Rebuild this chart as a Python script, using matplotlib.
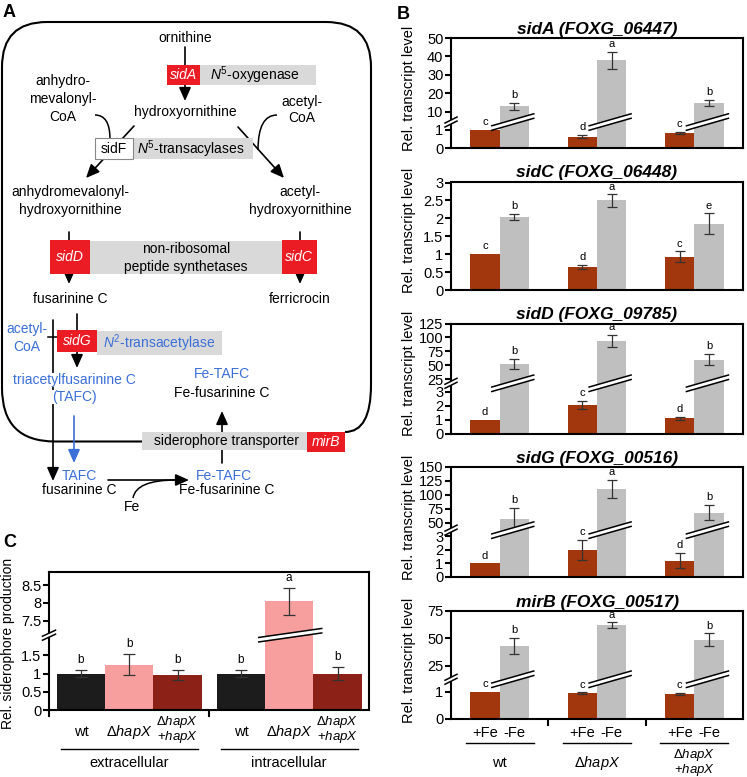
import numpy as np
import matplotlib.pyplot as plt
from matplotlib import transforms
from matplotlib.lines import Line2D
from matplotlib.patches import Rectangle, Polygon, FancyArrowPatch, PathPatch
from matplotlib.path import Path

plt.rcParams['font.family'] = ['Liberation Sans', 'DejaVu Sans']
plt.rcParams['mathtext.fontset'] = 'custom'
plt.rcParams['mathtext.rm'] = 'Liberation Sans'
plt.rcParams['mathtext.it'] = 'Liberation Sans:italic'
plt.rcParams['mathtext.bf'] = 'Liberation Sans:bold'

# ---- panel B: relative transcript level, +Fe / -Fe ----
b_strains = [['wt'], [r'$\Delta\mathit{hapX}$'], [r'$\Delta\mathit{hapX}$', r'+$\mathit{hapX}$']]
b_conditions = ['+Fe', '-Fe']

sidA_fe = [1.0, 0.63, 0.85]
sidA_fe_err = [0, 0.09, 0.05]
sidA_noFe = [13.0, 38.0, 14.8]
sidA_noFe_err = [2.0, 4.6, 1.6]
sidA_letters = ['c', 'd', 'c', 'b', 'a', 'b']

sidC_fe = [1.0, 0.65, 0.93]
sidC_fe_err = [0, 0.06, 0.15]
sidC_noFe = [2.04, 2.5, 1.85]
sidC_noFe_err = [0.09, 0.17, 0.29]
sidC_letters = ['c', 'd', 'c', 'b', 'a', 'e']

sidD_fe = [1.0, 2.05, 1.12]
sidD_fe_err = [0, 0.28, 0.1]
sidD_noFe = [52.0, 93.0, 60.0]
sidD_noFe_err = [9.0, 11.0, 10.0]
sidD_letters = ['d', 'c', 'd', 'b', 'a', 'b']

sidG_fe = [1.0, 2.0, 1.2]
sidG_fe_err = [0, 0.72, 0.57]
sidG_noFe = [56.0, 111.0, 68.0]
sidG_noFe_err = [20.0, 16.0, 14.0]
sidG_letters = ['d', 'c', 'd', 'b', 'a', 'b']

mirB_fe = [1.0, 0.94, 0.9]
mirB_fe_err = [0, 0.03, 0.04]
mirB_noFe = [43.0, 62.0, 48.5]
mirB_noFe_err = [7.0, 2.5, 6.0]
mirB_letters = ['c', 'c', 'c', 'b', 'a', 'b']

# ---- panel C: relative siderophore production ----
c_groups = ['extracellular', 'intracellular']
c_strains = [['wt'], [r'$\Delta\mathit{hapX}$'], [r'$\Delta\mathit{hapX}$', r'+$\mathit{hapX}$']]
c_ext = [1.0, 1.24, 0.96]
c_ext_err = [0.1, 0.29, 0.13]
c_int = [1.0, 8.05, 1.0]
c_int_err = [0.1, 0.38, 0.17]
c_ext_letters = ['b', 'b', 'b']
c_int_letters = ['b', 'a', 'b']

FE_COL = '#a2360c'
NOFE_COL = '#bfbfbf'
ERR_COL = '#333333'
C_COLS = ['#1c1c1c', '#f79f9f', '#8c2117']
RED = '#ec1c24'
GREY = '#d9d9d9'
BLUE = '#3b6fd8'

W, H = 747, 777
fig = plt.figure(figsize=(W / 100, H / 100), dpi=100)


def px_axes(l, t, r, b):
    return fig.add_axes([l / W, 1 - b / H, (r - l) / W, (b - t) / H])


def break_scale(ax, lo_max, frac, hi_min, hi_max):
    xs = [0.0, lo_max, hi_min, hi_max]
    ys = [0.0, frac, frac + 1e-3, 1.0]
    ax.set_yscale('function', functions=(lambda v: np.interp(v, xs, ys),
                                         lambda u: np.interp(u, ys, xs)))
    ax.set_ylim(0, hi_max)


def slash(ax, x, yfrac, w, rise, gap, xtrans, dx=0.0, lw=1.1):
    # double-line axis break, sizes in pixels
    T = transforms.blended_transform_factory(xtrans, ax.transAxes)
    tr = transforms.Affine2D().translate(dx, 0) + transforms.ScaledTranslation(x, yfrac, T)
    hw, hr, hg = w / 2, rise / 2, gap / 2
    ax.add_artist(Polygon([(-hw, -hr - hg), (hw, hr - hg), (hw, hr + hg), (-hw, -hr + hg)],
                          closed=True, transform=tr, fc='white', ec='none',
                          clip_on=False, zorder=6))
    for s in (-hg, hg):
        ax.add_artist(Line2D([-hw, hw], [-hr + s, hr + s], transform=tr, color='black',
                             lw=lw, clip_on=False, zorder=7))


def style_axes(ax):
    for sp in ax.spines.values():
        sp.set_linewidth(1.5)
    ax.tick_params(axis='y', direction='out', length=4, width=1.5, labelsize=10.5, pad=1.5)


# ================= panel A (schematic) =================
axA = fig.add_axes([0, 0, 1, 1])
axA.set_xlim(0, W)
axA.set_ylim(H, 0)
axA.axis('off')


def rect(x0, y0, x1, y1, fc, ec='none', lw=0, z=2):
    axA.add_patch(Rectangle((x0, y0), x1 - x0, y1 - y0, facecolor=fc, edgecolor=ec,
                            linewidth=lw, zorder=z))


def arrow(p0, p1, color='black', head=True, z=1):
    style = '-|>,head_length=0.45,head_width=0.2' if head else '-'
    axA.add_patch(FancyArrowPatch(p0, p1, arrowstyle=style, mutation_scale=18,
                                  linewidth=1.2, color=color, shrinkA=0, shrinkB=0, zorder=z))


def curve(p0, c, p1, z=1):
    axA.add_patch(PathPatch(Path([p0, c, p1], [Path.MOVETO, Path.CURVE3, Path.CURVE3]),
                            fc='none', ec='black', lw=1.1, zorder=z))


def label(x, y, s, color='black', ha='center', size=10, **kw):
    axA.text(x, y, s, color=color, ha=ha, va='center', fontsize=size, zorder=4, **kw)


# cell outline
cell = Path([(142, 441.5), (55, 441.5), (2, 441.5), (2, 388), (2, 67), (2, 22), (47, 22),
             (326, 22), (371, 22), (371, 67), (371, 385), (371, 432), (345, 432)],
            [Path.MOVETO, Path.LINETO, Path.CURVE3, Path.CURVE3, Path.LINETO, Path.CURVE3,
             Path.CURVE3, Path.LINETO, Path.CURVE3, Path.CURVE3, Path.LINETO, Path.CURVE3,
             Path.CURVE3])
axA.add_patch(PathPatch(cell, fc='none', ec='black', lw=1.5, zorder=1))

# boxes
rect(167, 65, 200, 85, RED)
rect(200, 65, 316, 85, GREY)
rect(95, 138, 133, 159, 'white', ec='#888888', lw=0.8, z=3)
rect(133, 138, 253, 159, GREY)
rect(90, 241, 282, 274, GREY)
rect(50, 240, 90, 274, RED)
rect(282, 240, 317, 274, RED)
rect(97, 331, 222, 355, GREY)
rect(57, 330, 97, 352, RED, z=3)
rect(142, 432, 307, 450, GREY)
rect(307, 432, 345, 452, RED)

# arrows and connectors
arrow((185, 47), (185, 101))
arrow((134, 126), (86, 178))
curve((95, 115), (110, 115), (110, 139))
arrow((238, 127), (284, 178))
curve((277, 115), (258, 115), (258, 150))
arrow((69, 232), (69, 284))
arrow((300, 232), (300, 284))
arrow((77, 314), (77, 368))
arrow((53, 320), (53, 481))
axA.plot([48, 57], [337, 337], color='black', lw=1.1, zorder=1)
arrow((74, 416), (74, 463), color=BLUE)
arrow((222, 463), (222, 411))
arrow((108, 480), (189, 480))
curve((133, 498), (136, 480), (176, 480))

# texts
white = dict(fc='white', ec='none', pad=0.3)
label(185, 38, 'ornithine')
label(183.5, 75, 'sidA', color='white', style='italic')
label(210, 75, r'$\mathit{N}^{5}$-oxygenase', ha='left')
label(185, 112, 'hydroxyornithine')
label(63, 81, 'anhydro-')
label(63, 99, 'mevalonyl-')
label(63, 117, 'CoA')
label(302, 102, 'acetyl-')
label(302, 118, 'CoA')
label(114, 149, 'sidF')
label(137, 149, r'$\mathit{N}^{5}$-transacylases', ha='left')
label(70, 192, 'anhydromevalonyl-')
label(70, 210, 'hydroxyornithine')
label(300, 192, 'acetyl-')
label(300, 210, 'hydroxyornithine')
label(70, 257, 'sidD', color='white', style='italic')
label(299, 257, 'sidC', color='white', style='italic')
label(186, 249, 'non-ribosomal')
label(186, 267, 'peptide synthetases')
label(70, 299, 'fusarinine C')
label(300, 299, 'ferricrocin')
label(77, 341, 'sidG', color='white', style='italic')
label(103, 343, r'$\mathit{N}^{2}$-transacetylase', color=BLUE, ha='left')
label(27, 329, 'acetyl-', color=BLUE, bbox=white)
label(27, 347, 'CoA', color=BLUE, bbox=white)
label(74, 380, 'triacetylfusarinine C', color=BLUE, bbox=white)
label(74, 397, '(TAFC)', color=BLUE, bbox=white)
label(222, 374, 'Fe-TAFC', color=BLUE)
label(222, 393, 'Fe-fusarinine C')
label(227, 441, 'siderophore transporter')
label(326, 442, 'mirB', color='white', style='italic')
label(79, 476, 'TAFC', color=BLUE)
label(79, 490, 'fusarinine C')
label(224, 476, 'Fe-TAFC', color=BLUE)
label(227, 490, 'Fe-fusarinine C')
label(132, 507, 'Fe')

fig.text(3 / W, 1 - 4 / H, 'A', fontsize=13, fontweight='bold', va='top', ha='left')
fig.text(397 / W, 1 - 6 / H, 'B', fontsize=13, fontweight='bold', va='top', ha='left')
fig.text(3 / W, 1 - 534 / H, 'C', fontsize=13, fontweight='bold', va='top', ha='left')

# ================= panel B =================
b_panels = [
    ('sidA (FOXG_06447)', sidA_fe, sidA_fe_err, sidA_noFe, sidA_noFe_err, sidA_letters,
     [0, 1, 10, 20, 30, 40, 50], (1.44, 0.236, 4.5, 50), (38, 148)),
    ('sidC (FOXG_06448)', sidC_fe, sidC_fe_err, sidC_noFe, sidC_noFe_err, sidC_letters,
     [0, 0.5, 1, 1.5, 2, 2.5, 3], None, (181.5, 290)),
    ('sidD (FOXG_09785)', sidD_fe, sidD_fe_err, sidD_noFe, sidD_noFe_err, sidD_letters,
     [0, 1, 2, 3, 25, 50, 75, 100, 125], (3.6, 0.459, 17.8, 125), (323.5, 434)),
    ('sidG (FOXG_00516)', sidG_fe, sidG_fe_err, sidG_noFe, sidG_noFe_err, sidG_letters,
     [0, 1, 2, 3, 50, 75, 100, 125, 150], (3.43, 0.426, 36.8, 150), (467, 577)),
    ('mirB (FOXG_00517)', mirB_fe, mirB_fe_err, mirB_noFe, mirB_noFe_err, mirB_letters,
     [0, 1, 25, 50, 75], (1.45, 0.368, 12.5, 75), (611, 719)),
]

xc = np.arange(3) + 0.5
bw = 0.3
for k, (title, fe, fe_err, nofe, nofe_err, lets, ticks, brk, (top, bot)) in enumerate(b_panels):
    ax = px_axes(451, top, 743, bot)
    ax.set_xlim(0, 3)
    if brk:
        break_scale(ax, *brk)
    else:
        ax.set_ylim(0, 3.03)
    x_fe, x_no = xc - bw / 2, xc + bw / 2
    ax.bar(x_fe, fe, bw, color=FE_COL, zorder=2)
    ax.bar(x_no, nofe, bw, color=NOFE_COL, zorder=2)
    xs = list(x_fe) + list(x_no)
    for x, v, e, l in zip(xs, fe + nofe, fe_err + nofe_err, lets):
        if e > 0:
            ax.errorbar(x, v, yerr=e, fmt='none', ecolor=ERR_COL, elinewidth=0.9,
                        capsize=3.5, capthick=0.9, zorder=3)
        ax.annotate(l, (x, v + e), xytext=(0, 2), textcoords='offset points',
                    ha='center', va='bottom', fontsize=8)
    if brk:
        for x, v in zip(x_no, nofe):
            if v > brk[0]:
                slash(ax, x, brk[1], 42, 12, 4.5, ax.transData, dx=-1.5)
        slash(ax, 0, brk[1], 12, 6, 4, ax.transAxes)
    ax.set_yticks(ticks, [f'{t:g}' for t in ticks])
    style_axes(ax)
    ax.set_title(title, fontsize=12.5, fontweight='bold', fontstyle='italic', pad=3)
    fig.text(409 / W, 1 - ((top + bot) / 2 - 5) / H, 'Rel. transcript level',
             rotation=90, ha='center', va='center', fontsize=10.5)
    if k < len(b_panels) - 1:
        ax.set_xticks([])
    else:
        ax.set_xticks([1, 2])
        ax.tick_params(axis='x', direction='out', length=5, width=1.5, labelbottom=False)
        T = transforms.blended_transform_factory(ax.transData, ax.transAxes)
        for i in range(3):
            ax.text(x_fe[i], -0.13, b_conditions[0], transform=T, ha='center', va='center', fontsize=10.5)
            ax.text(x_no[i], -0.13, b_conditions[1], transform=T, ha='center', va='center', fontsize=10.5)
            ax.add_artist(Line2D([xc[i] - 0.35, xc[i] + 0.35], [-0.222, -0.222], transform=T,
                                 color='black', lw=1, clip_on=False))
            lines = b_strains[i]
            ys = [-0.405] if len(lines) == 1 else [-0.335, -0.475]
            for s, yy in zip(lines, ys):
                ax.text(xc[i], yy, s, transform=T, ha='center', va='center',
                        fontsize=10.5 if len(lines) == 1 else 9.5)

# ================= panel C =================
axc = px_axes(49, 572, 369, 710)
axc.set_xlim(0, 6.62)
break_scale(axc, 2.05, 0.542, 7.1, 8.87)
pos_ext = np.arange(3) + 0.66
pos_int = np.arange(3) + 3.97
for pos, vals, errs, lets in [(pos_ext, c_ext, c_ext_err, c_ext_letters),
                              (pos_int, c_int, c_int_err, c_int_letters)]:
    axc.bar(pos, vals, 1.0, color=C_COLS, zorder=2)
    axc.errorbar(pos, vals, yerr=errs, fmt='none', ecolor=ERR_COL, elinewidth=0.9,
                 capsize=4, capthick=0.9, zorder=3)
    for x, v, e, l in zip(pos, vals, errs, lets):
        axc.annotate(l, (x, v + e), xytext=(0, 3), textcoords='offset points',
                     ha='center', va='bottom', fontsize=8.5)
        if v > 2.05:
            slash(axc, x, 0.542, 63, 9, 4.5, axc.transData, dx=1)
slash(axc, 0, 0.542, 13, 6, 4, axc.transAxes)
cticks = [0, 0.5, 1, 1.5, 7.5, 8, 8.5]
axc.set_yticks(cticks, [f'{t:g}' for t in cticks])
style_axes(axc)
axc.set_xticks([0, 3.31])
axc.tick_params(axis='x', direction='out', length=5, width=1.5, labelbottom=False)
fig.text(8 / W, 1 - 643 / H, 'Rel. siderophore production', rotation=90,
         ha='center', va='center', fontsize=10)
Tc = transforms.blended_transform_factory(axc.transData, axc.transAxes)
for pos, grp in [(pos_ext, c_groups[0]), (pos_int, c_groups[1])]:
    for x, lines in zip(pos, c_strains):
        ys = [-0.157] if len(lines) == 1 else [-0.085, -0.195]
        for s, yy in zip(lines, ys):
            axc.text(x, yy, s, transform=Tc, ha='center', va='center',
                     fontsize=10.5 if len(lines) == 1 else 9.5)
    axc.add_artist(Line2D([pos[0] - 0.41, pos[2] + 0.43], [-0.284, -0.284], transform=Tc,
                          color='black', lw=1, clip_on=False))
    axc.text(pos[1], -0.385, grp, transform=Tc, ha='center', va='center', fontsize=10.5)

fig.savefig('out.png', dpi=100)
